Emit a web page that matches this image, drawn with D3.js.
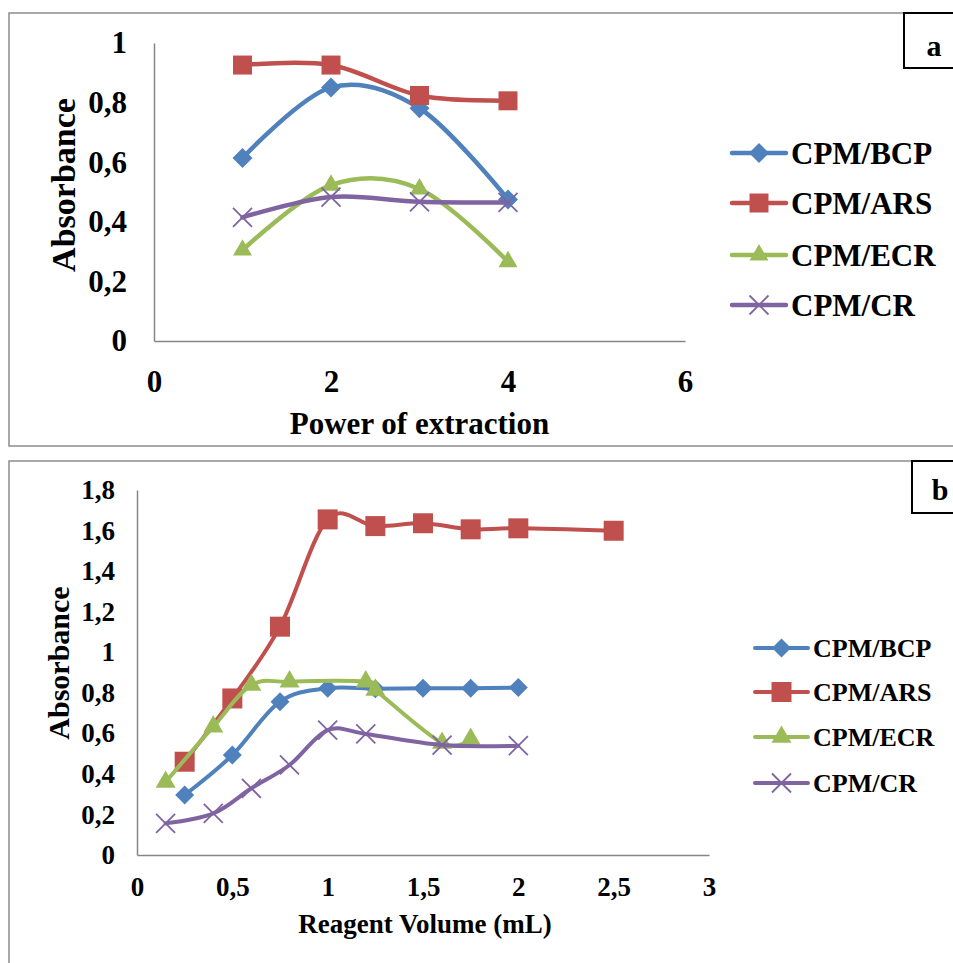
<!DOCTYPE html>
<html>
<head>
<meta charset="utf-8">
<script src="https://cdn.jsdelivr.net/npm/d3@7/dist/d3.min.js"></script>
<style>
  body { margin: 0; background: #fff; }
  svg text { font-family: "Liberation Serif", "Times New Roman", serif; font-weight: bold; fill: #000; }
</style>
</head>
<body>
<div id="chart"></div>
<script>
// panel a : absorbance vs power of extraction
const seriesNames = ['CPM/BCP', 'CPM/ARS', 'CPM/ECR', 'CPM/CR'];
const colors = ['#4F81BD', '#C0504D', '#9BBB59', '#8064A2'];
const markers = ['diamond', 'square', 'triangle', 'cross'];

const powerA = [1, 2, 3, 4];
const bcpA = [0.614, 0.851, 0.781, 0.475];
const arsA = [0.926, 0.926, 0.824, 0.806];
const ecrA = [0.305, 0.523, 0.51, 0.266];
const crA = [0.415, 0.483, 0.467, 0.465];
const xTicksA = [0, 2, 4, 6];
const yTicksA = [0, 0.2, 0.4, 0.6, 0.8, 1];

// panel b : absorbance vs reagent volume
const bcpBx = [0.25, 0.5, 0.75, 1, 1.25, 1.5, 1.75, 2];
const bcpBy = [0.296, 0.493, 0.756, 0.822, 0.82, 0.822, 0.822, 0.826];
const arsBx = [0.25, 0.5, 0.75, 1, 1.25, 1.5, 1.75, 2, 2.5];
const arsBy = [0.46, 0.772, 1.126, 1.655, 1.622, 1.636, 1.606, 1.611, 1.599];
const ecrBx = [0.15, 0.4, 0.6, 0.8, 1.2, 1.25, 1.6, 1.75];
const ecrBy = [0.36, 0.633, 0.838, 0.855, 0.855, 0.814, 0.552, 0.572];
const crBx = [0.15, 0.4, 0.6, 0.8, 1, 1.2, 1.6, 2];
const crBy = [0.156, 0.205, 0.329, 0.444, 0.616, 0.597, 0.542, 0.539];
const xTicksB = [0, 0.5, 1, 1.5, 2, 2.5, 3];
const yTicksB = [0, 0.2, 0.4, 0.6, 0.8, 1, 1.2, 1.4, 1.6, 1.8];

const fmt = d => String(d).replace('.', ',');
const zip = (xs, ys) => xs.map((x, i) => [x, ys[i]]);

const svg = d3.select('#chart').append('svg')
  .attr('width', 953)
  .attr('height', 963);

// outer frames
svg.append('rect').attr('x', 9).attr('y', 13).attr('width', 960).attr('height', 433)
  .attr('fill', 'none').attr('stroke', '#8c8c8c').attr('stroke-width', 1.5);
svg.append('rect').attr('x', 9).attr('y', 461).attr('width', 960).attr('height', 520)
  .attr('fill', 'none').attr('stroke', '#8c8c8c').attr('stroke-width', 1.5);

function markerPath(type, s) {
  if (type === 'diamond') return d3.symbol(d3.symbolSquare, s * s / 2)();
  if (type === 'square') return d3.symbol(d3.symbolSquare, s * s)();
  if (type === 'triangle') return d3.symbol(d3.symbolTriangle, Math.sqrt(3) / 4 * s * s)();
  const r = s / 2;
  return `M${-r},${-r}L${r},${r}M${-r},${r}L${r},${-r}`;
}

function drawMarker(g, type, color, x, y, s) {
  const p = g.append('path')
    .attr('d', markerPath(type, s))
    .attr('transform', `translate(${x},${y})` + (type === 'diamond' ? ' rotate(45)' : ''));
  if (type === 'cross') p.attr('fill', 'none').attr('stroke', color).attr('stroke-width', 1.8);
  else p.attr('fill', color);
}

function drawPanel(cfg) {
  const x = d3.scaleLinear().domain(cfg.xDomain).range(cfg.xRange);
  const y = d3.scaleLinear().domain(cfg.yDomain).range(cfg.yRange);

  const yAxis = svg.append('g')
    .attr('transform', `translate(${cfg.xRange[0]},0)`)
    .call(d3.axisLeft(y).tickValues(cfg.yTicks).tickFormat(fmt).tickSize(0).tickPadding(cfg.yPad));
  const xAxis = svg.append('g')
    .attr('transform', `translate(0,${cfg.yRange[0]})`)
    .call(d3.axisBottom(x).tickValues(cfg.xTicks).tickFormat(fmt).tickSize(0).tickPadding(cfg.xPad));
  [xAxis, yAxis].forEach(a => {
    a.select('.domain').attr('stroke', '#868686').attr('stroke-width', 1.5);
    a.selectAll('text').style('font-size', cfg.tickFont + 'px')
      .style('font-family', '"Liberation Serif", serif').style('font-weight', 'bold');
  });

  svg.append('text')
    .attr('x', (cfg.xRange[0] + cfg.xRange[1]) / 2 + cfg.xTitleDx)
    .attr('y', cfg.xTitleY)
    .attr('text-anchor', 'middle')
    .style('font-size', cfg.titleFont + 'px')
    .text(cfg.xTitle);
  svg.append('text')
    .attr('transform', `translate(${cfg.yTitleX},${cfg.yTitleY}) rotate(-90)`)
    .attr('text-anchor', 'middle')
    .style('font-size', cfg.yTitleFont + 'px')
    .text('Absorbance');

  const line = d3.line()
    .x(d => x(d[0]))
    .y(d => y(d[1]))
    .curve(d3.curveCardinal.tension(0));

  cfg.series.forEach((pts, i) => {
    const g = svg.append('g');
    g.append('path')
      .datum(pts)
      .attr('fill', 'none')
      .attr('stroke', colors[i])
      .attr('stroke-width', cfg.lineWidth)
      .attr('stroke-linecap', 'round')
      .attr('d', line);
    pts.forEach(d => drawMarker(g, markers[i], colors[i], x(d[0]), y(d[1]), cfg.markerSize[i]));
  });

  // legend
  seriesNames.forEach((name, i) => {
    const ly = cfg.legendY[i];
    const g = svg.append('g');
    g.append('line')
      .attr('x1', cfg.legendX).attr('x2', cfg.legendX + cfg.legendLen)
      .attr('y1', ly).attr('y2', ly)
      .attr('stroke', colors[i]).attr('stroke-width', cfg.lineWidth)
      .attr('stroke-linecap', 'round');
    drawMarker(g, markers[i], colors[i], cfg.legendX + cfg.legendLen / 2, ly, cfg.markerSize[i]);
    g.append('text')
      .attr('x', cfg.legendX + cfg.legendLen + 5)
      .attr('y', ly)
      .attr('dy', '0.35em')
      .style('font-size', cfg.legendFont + 'px')
      .text(name);
  });

  // panel tag box
  svg.append('rect')
    .attr('x', cfg.tag.x).attr('y', cfg.tag.y).attr('width', 80).attr('height', cfg.tag.h)
    .attr('fill', '#fff').attr('stroke', '#000').attr('stroke-width', 2);
  svg.append('text')
    .attr('x', cfg.tag.tx).attr('y', cfg.tag.ty)
    .attr('text-anchor', 'middle')
    .style('font-size', cfg.tag.font + 'px')
    .text(cfg.tag.label);
}

drawPanel({
  xDomain: [0, 6], xRange: [154, 685],
  yDomain: [0, 1], yRange: [341, 43],
  xTicks: xTicksA, yTicks: yTicksA,
  xPad: 29, yPad: 27, tickFont: 31,
  xTitle: 'Power of extraction', xTitleDx: 0, xTitleY: 434, titleFont: 31,
  yTitleX: 75, yTitleY: 185, yTitleFont: 34,
  lineWidth: 4.5,
  markerSize: [20, 19, 19, 19],
  series: [zip(powerA, bcpA), zip(powerA, arsA), zip(powerA, ecrA), zip(powerA, crA)],
  legendX: 732, legendLen: 54, legendY: [153, 203, 255, 305], legendFont: 31,
  tag: { x: 904, y: 13, h: 55, tx: 934, ty: 56, font: 30, label: 'a' }
});

drawPanel({
  xDomain: [0, 3], xRange: [137, 709],
  yDomain: [0, 1.8], yRange: [855, 490],
  xTicks: xTicksB, yTicks: yTicksB,
  xPad: 22, yPad: 22, tickFont: 27,
  xTitle: 'Reagent Volume (mL)', xTitleDx: 2, xTitleY: 933, titleFont: 27,
  yTitleX: 69, yTitleY: 663, yTitleFont: 30,
  lineWidth: 4,
  markerSize: [19, 20, 20, 19],
  series: [zip(bcpBx, bcpBy), zip(arsBx, arsBy), zip(ecrBx, ecrBy), zip(crBx, crBy)],
  legendX: 755, legendLen: 53, legendY: [648, 692, 737, 783], legendFont: 26,
  tag: { x: 912, y: 461, h: 52, tx: 940, ty: 500, font: 30, label: 'b' }
});
</script>
</body>
</html>
